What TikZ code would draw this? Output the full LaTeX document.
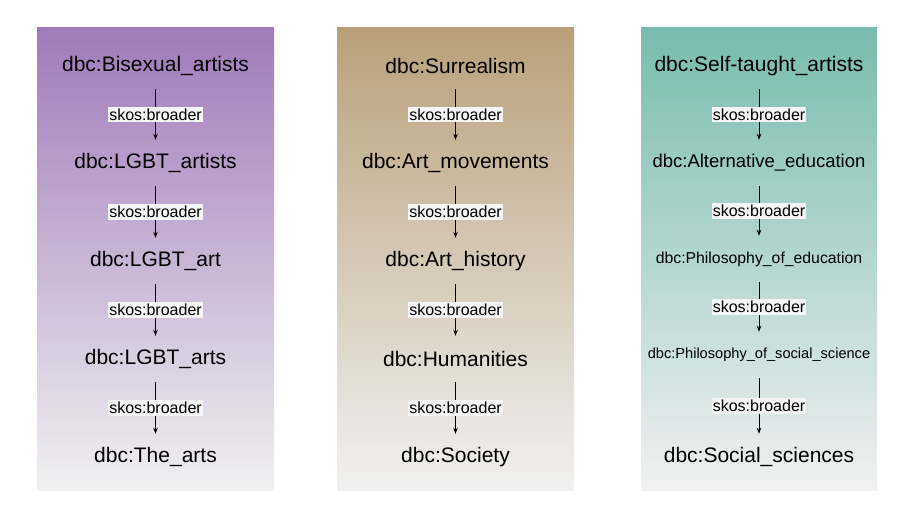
\documentclass[tikz,border=0pt]{standalone}
\usepackage{fontspec}
\setmainfont{Liberation Sans}
\usetikzlibrary{arrows.meta}
\definecolor{lgbtpanel}{RGB}{160,122,186}
\definecolor{movementpanel}{RGB}{185,160,122}
\definecolor{educationpanel}{RGB}{120,188,175}
\definecolor{panelfoot}{RGB}{241,241,241}
\tikzset{category/.style={inner sep=0pt,minimum height=46bp,font=\fontsize{21bp}{25bp}\selectfont},
 broader/.style={-{Stealth[length=6bp,width=4.5bp]},line width=.8bp},
 relation/.style={fill=white!96!black,inner xsep=1bp,inner ysep=2bp,font=\fontsize{16bp}{19bp}\selectfont}}

\begin{document}
\begin{tikzpicture}[x=1bp,y=1bp]
\useasboundingbox (0,0) rectangle (914,520);
% panels
\fill[top color=lgbtpanel,bottom color=panelfoot] (37,29) rectangle (274,492);
\fill[top color=movementpanel,bottom color=panelfoot] (337,29) rectangle (574,492);
\fill[top color=educationpanel,bottom color=panelfoot] (641,29) rectangle (877,492);
% left chain
\node[category] (b1) at (155.5,454) {dbc:Bisexual\_artists};
\node[category] (b2) at (155.5,357) {dbc:LGBT\_artists};
\node[category] (b3) at (155.5,259) {dbc:LGBT\_art};
\node[category] (b4) at (155.5,161) {dbc:LGBT\_arts};
\node[category] (b5) at (155.5,63) {dbc:The\_arts};
% middle chain
\node[category] (s1) at (455.5,454) {dbc:Surrealism};
\node[category] (s2) at (455.5,357) {dbc:Art\_movements};
\node[category] (s3) at (455.5,259) {dbc:Art\_history};
\node[category] (s4) at (455.5,161) {dbc:Humanities};
\node[category] (s5) at (455.5,63) {dbc:Society};
% right chain
\node[category] (t1) at (759,454) {dbc:Self-taught\_artists};
\node[category,font=\fontsize{18.5bp}{22bp}\selectfont] (t2) at (759,357) {dbc:Alternative\_education};
\node[category,font=\fontsize{15.8bp}{19bp}\selectfont] (t3) at (759,261) {dbc:Philosophy\_of\_education};
\node[category,font=\fontsize{14.6bp}{18bp}\selectfont] (t4) at (759,165) {dbc:Philosophy\_of\_social\_science};
\node[category] (t5) at (759,63) {dbc:Social\_sciences};
% skos:broader links
\foreach \col in {b,s,t}{
  \draw[broader] (\col1) -- node[relation] {skos:broader} (\col2);
  \draw[broader] (\col2) -- node[relation] {skos:broader} (\col3);
  \draw[broader] (\col3) -- node[relation] {skos:broader} (\col4);
  \draw[broader] (\col4) -- node[relation] {skos:broader} (\col5);
}
\end{tikzpicture}
\end{document}
